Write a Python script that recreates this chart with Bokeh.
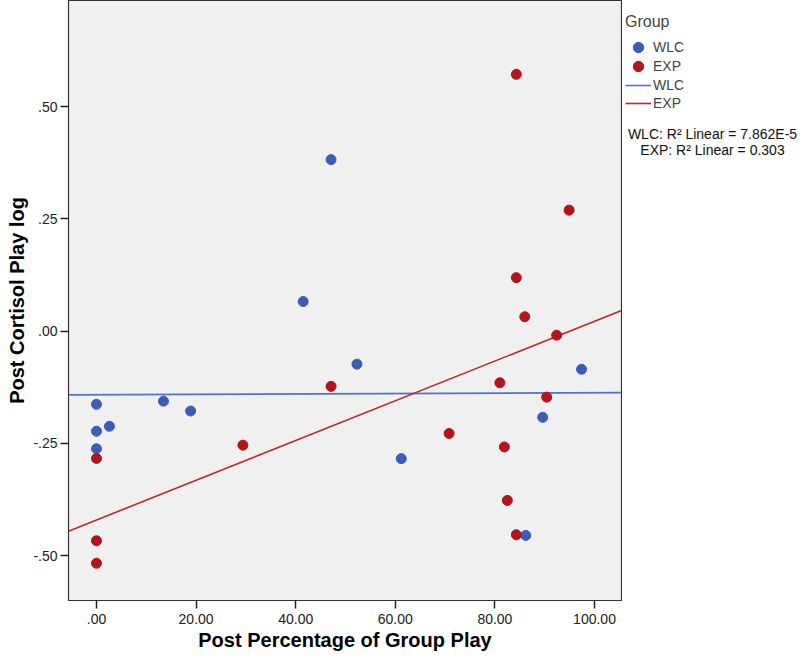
from bokeh.plotting import figure
from bokeh.layouts import row
from bokeh.models import (Range1d, FixedTicker, CustomJSTickFormatter, Legend,
                          LegendItem, Label)
from bokeh.embed import file_html
from bokeh.resources import INLINE

# ---- data ----
wlc_x = [0, 0, 2.6, 0, 13.45, 18.9, 41.5, 47.1, 52.3, 61.2, 89.6, 97.4, 86.2]
wlc_y = [-0.163, -0.223, -0.212, -0.262, -0.156, -0.178, 0.066, 0.382,
         -0.0735, -0.284, -0.192, -0.085, -0.455]

exp_x = [0, 0, 0, 29.4, 47.1, 70.8, 81.0, 81.9, 82.5, 84.3, 84.3, 84.3,
         86.0, 90.4, 92.4, 94.9]
exp_y = [-0.2835, -0.467, -0.517, -0.254, -0.123, -0.228, -0.115, -0.258,
         -0.377, 0.572, 0.119, -0.4535, 0.032, -0.147, -0.009, 0.2695]

# fit lines (end values read at the frame edges)
fit_x = [-5.62, 105.42]
wlc_fit_y = [-0.142, -0.137]
exp_fit_y = [-0.4456, 0.046]

x_ticks = [0, 20, 40, 60, 80, 100]
y_ticks = [-0.5, -0.25, 0, 0.25, 0.5]

groups = ["WLC", "EXP"]
wlc_r2 = "WLC: R\u00b2 Linear = 7.862E-5"
exp_r2 = "EXP: R\u00b2 Linear = 0.303"

BLUE = "#3d5cb8"
RED = "#b2151b"
BLUE_LINE = "#4f72cf"
RED_LINE = "#c0262c"
FONT = "Liberation Sans"

# ---------------- main scatter plot ----------------
p = figure(width=622, height=664,
           x_range=Range1d(fit_x[0], fit_x[1]), y_range=Range1d(-0.600, 0.7365),
           output_backend="svg", toolbar_location=None,
           min_border_left=68, min_border_right=1, min_border_top=0,
           min_border_bottom=64,
           background_fill_color="#f0f0f0", border_fill_color="white")

p.outline_line_color = "#333333"
p.outline_line_width = 1.2
p.grid.visible = False

fmt = CustomJSTickFormatter(code="""
var s = tick.toFixed(2);
return s.replace(/^(-?)0\\./, "$1.");
""")

for ax, ticks in ((p.xaxis, x_ticks), (p.yaxis, y_ticks)):
    ax.ticker = FixedTicker(ticks=ticks)
    ax.formatter = fmt
    ax.minor_tick_line_color = None
    ax.major_tick_in = 0
    ax.major_tick_out = 8
    ax.major_tick_line_color = "#222222"
    ax.major_tick_line_width = 1.5
    ax.axis_line_color = "#333333"
    ax.major_label_text_font = FONT
    ax.major_label_text_font_size = "14px"
    ax.major_label_text_color = "#222222"
    ax.axis_label_text_font = FONT
    ax.axis_label_text_font_size = "20px"
    ax.axis_label_text_font_style = "bold"
    ax.axis_label_text_color = "black"

p.xaxis.axis_label = "Post Percentage of Group Play"
p.yaxis.axis_label = "Post Cortisol Play log"
p.xaxis.major_label_standoff = 5
p.xaxis.axis_label_standoff = 2
p.yaxis.major_label_standoff = 3
p.yaxis.axis_label_standoff = 2

p.line(fit_x, wlc_fit_y, line_color=BLUE_LINE, line_width=1.6)
p.line(fit_x, exp_fit_y, line_color=RED_LINE, line_width=1.6)
p.scatter(wlc_x, wlc_y, size=10, fill_color=BLUE, line_color=BLUE)
p.scatter(exp_x, exp_y, size=10, fill_color=RED, line_color=RED)

# ---------------- legend panel ----------------
q = figure(width=178, height=664, x_range=Range1d(0, 175), y_range=Range1d(0, 600),
           output_backend="svg", toolbar_location=None,
           x_axis_location=None, y_axis_location=None,
           min_border_left=3, min_border_right=0, min_border_top=0,
           min_border_bottom=64, outline_line_color=None,
           background_fill_color="white", border_fill_color="white")
q.grid.visible = False

# key renderers (hidden; only their legend keys are shown)
k_wlc = q.scatter(wlc_x, wlc_y, size=11, fill_color=BLUE, line_color=BLUE, visible=False)
k_exp = q.scatter(exp_x, exp_y, size=11, fill_color=RED, line_color=RED, visible=False)
kl_wlc = q.line(fit_x, wlc_fit_y, line_color=BLUE_LINE, line_width=1.6, visible=False)
kl_exp = q.line(fit_x, exp_fit_y, line_color=RED_LINE, line_width=1.6, visible=False)

common = dict(background_fill_alpha=0, border_line_alpha=0, inactive_fill_alpha=0,
              padding=0, margin=0, label_standoff=2,
              label_text_font=FONT, label_text_font_size="14px")

legend_a = Legend(items=[LegendItem(label=groups[0], renderers=[k_wlc])],
                  title="Group", location=(0, 538),
                  spacing=0, glyph_width=26, glyph_height=30, label_height=30,
                  title_standoff=1, title_text_font=FONT,
                  title_text_font_size="16px", title_text_font_style="normal",
                  **common)
legend_b = Legend(items=[LegendItem(label=groups[1], renderers=[k_exp])],
                  location=(0, 519),
                  spacing=0, glyph_width=26, glyph_height=30, label_height=30,
                  **common)
legend_c = Legend(items=[LegendItem(label=groups[0], renderers=[kl_wlc]),
                         LegendItem(label=groups[1], renderers=[kl_exp])],
                  location=(0, 488),
                  spacing=0, glyph_width=26, glyph_height=18, label_height=18,
                  **common)
for lg in (legend_a, legend_b, legend_c):
    q.add_layout(lg)

for txt, yy in ((wlc_r2, 467), (exp_r2, 451)):
    q.add_layout(Label(x=87, y=yy, text=txt, text_align="center",
                       text_baseline="middle", text_font=FONT,
                       text_font_size="14px", text_color="#111111"))

layout = row(p, q)
open("out.html", "w").write(file_html(layout, INLINE))
